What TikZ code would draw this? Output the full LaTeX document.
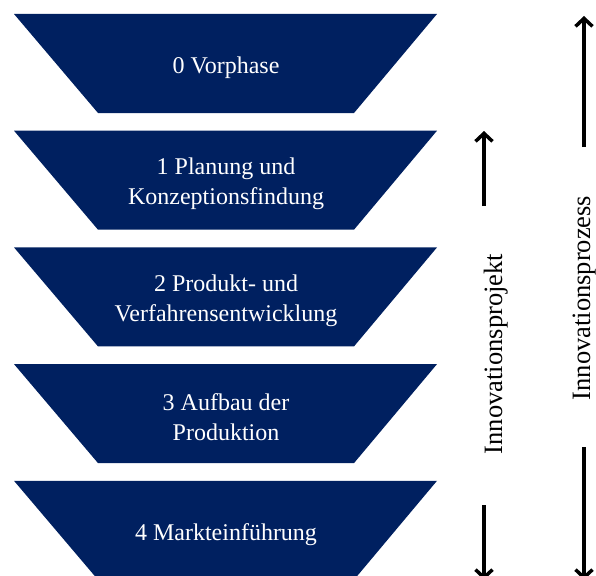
\documentclass[tikz,border=0pt]{standalone}
\usepackage{fontspec}
\setmainfont{Liberation Serif}
\usetikzlibrary{arrows.meta}
\definecolor{navy}{RGB}{0,32,96}
\tikzset{
  phase/.style={fill=navy},
  phasetext/.style={text=white, align=center, font=\fontsize{24}{30}\selectfont},
  sidetext/.style={rotate=90, anchor=base, font=\fontsize{26.5}{30}\selectfont},
  sidearrow/.style={line width=3.5pt, -{Straight Barb[length=8pt,width=17pt]}},
  sideline/.style={line width=3.5pt}
}
\begin{document}
\begin{tikzpicture}[x=1pt,y=-1pt]
\useasboundingbox (0,0) rectangle (596,575);
\clip (0,0) rectangle (596,575);
\foreach \i/\txt in {0/{0 Vorphase},1/{1 Planung und\\Konzeptionsfindung},2/{2 Produkt- und\\Verfahrensentwicklung},3/{3 Aufbau der\\Produktion},4/{4 Markteinführung}}{
  \pgfmathsetmacro{\t}{14+116.7*\i}
  \pgfmathsetmacro{\b}{\t+99}
  \pgfmathsetmacro{\m}{\t+53.5}
  \path[phase] (14,\t) -- (437,\t) -- (354,\b) -- (98,\b) -- cycle;
  \node[phasetext] (p\i) at (226,\m) {\txt};
}
% Innovationsprojekt
\node[sidetext] (proj) at (502,354) {Innovationsprojekt};
\coordinate (pa1) at (484,206);
\coordinate (pa2) at (484,131);
\coordinate (pb1) at (484,505);
\coordinate (pb2) at (484,580);
\draw[sidearrow] (pa1) -- (pa2);
\draw[sidearrow] (pb1) -- (pb2);
% Innovationsprozess
\node[sidetext] (proz) at (590,298) {Innovationsprozess};
\coordinate (za1) at (584,147);
\coordinate (za2) at (584,16);
\coordinate (zb1) at (584,447);
\coordinate (zb2) at (584,580);
\draw[sidearrow] (za1) -- (za2);
\draw[sidearrow] (zb1) -- (zb2);
\end{tikzpicture}
\end{document}
